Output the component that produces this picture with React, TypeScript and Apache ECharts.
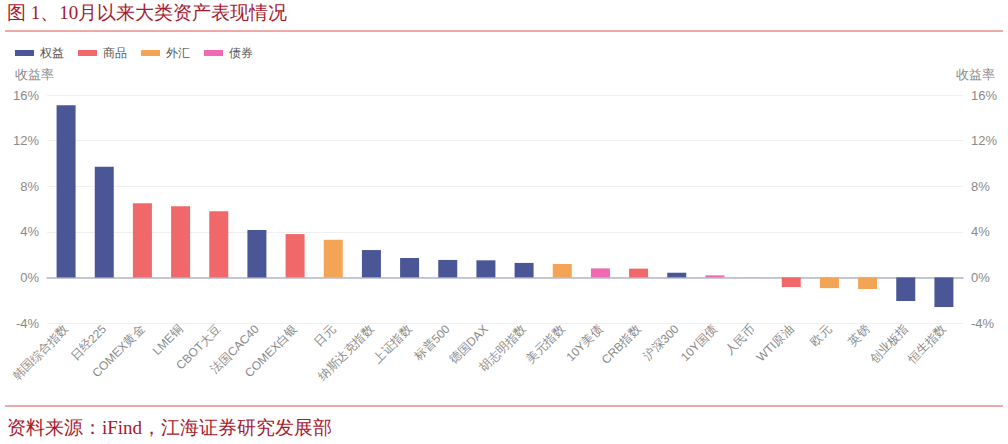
import React, { useEffect, useRef } from "react";
import * as echarts from "echarts";

const categories = [
  "韩国综合指数", "日经225", "COMEX黄金", "LME铜", "CBOT大豆", "法国CAC40", "COMEX白银", "日元",
  "纳斯达克指数", "上证指数", "标普500", "德国DAX", "胡志明指数", "美元指数", "10Y美债", "CRB指数",
  "沪深300", "10Y国债", "人民币", "WTI原油", "欧元", "英镑", "创业板指", "恒生指数",
];
const values = [
  15.1, 9.7, 6.5, 6.25, 5.8, 4.15, 3.8, 3.3,
  2.4, 1.7, 1.53, 1.5, 1.27, 1.18, 0.79, 0.77,
  0.41, 0.18, 0.02, -0.85, -0.94, -1.02, -2.07, -2.6,
];
const classes = [
  "权益", "权益", "商品", "商品", "商品", "权益", "商品", "外汇",
  "权益", "权益", "权益", "权益", "权益", "外汇", "债券", "商品",
  "权益", "债券", "外汇", "商品", "外汇", "外汇", "权益", "权益",
];
const seriesNames = ["权益", "商品", "外汇", "债券"];
const seriesColors = ["#4B5697", "#F0686A", "#F4A455", "#F06AB2"];
const yTicks = { min: -4, max: 16, interval: 4 };

export default function App() {
  const ref = useRef<HTMLDivElement>(null);
  useEffect(() => {
    if (!ref.current) return;
    const chart = echarts.init(ref.current, null, { renderer: "svg" });
    const series = seriesNames.map((name, si) => ({
      name,
      type: "bar",
      stack: "all",
      barWidth: 19,
      itemStyle: { color: seriesColors[si] },
      data: values.map((v, i) => (classes[i] === name ? v : "-")),
    }));
    const axisLabelStyle = { color: "#8a8a8a", fontSize: 13, formatter: "{value}%", fontFamily: "Arial, sans-serif" };
    chart.setOption({
      animation: false,
      legend: {
        left: 10,
        top: 42,
        itemWidth: 19,
        itemHeight: 6,
        itemGap: 14,
        icon: "rect",
        textStyle: { color: "#555", fontSize: 12, fontFamily: "sans-serif", padding: [0, 0, 0, 1] },
        data: seriesNames,
      },
      grid: { left: 47, right: 45, top: 95, bottom: 121 },
      xAxis: {
        type: "category",
        data: categories,
        axisLine: { onZero: true, lineStyle: { color: "#B3B7C8", width: 1.5 } },
        axisTick: { show: false },
        axisLabel: {
          rotate: 45,
          interval: 0,
          color: "#8a8a8a",
          fontSize: 12,
          margin: 4,
          fontFamily: "Arial, sans-serif",
        },
      },
      yAxis: [
        {
          type: "value",
          ...yTicks,
          position: "left",
          axisLine: { show: false },
          axisTick: { show: false },
          splitLine: { lineStyle: { color: "#EFEFF2" } },
          axisLabel: { ...axisLabelStyle, margin: 8 },
        },
        {
          type: "value",
          ...yTicks,
          position: "right",
          axisLine: { show: false },
          axisTick: { show: false },
          splitLine: { show: false },
          axisLabel: { ...axisLabelStyle, margin: 8 },
        },
      ],
      series,
      graphic: [
        {
          type: "text",
          left: 7,
          top: 3,
          style: { text: "图 1、10月以来大类资产表现情况", fill: "#A8182D", fontSize: 19, fontFamily: "serif" },
        },
        { type: "line", shape: { x1: 5, y1: 31, x2: 1003, y2: 31 }, style: { stroke: "#D9574F", lineWidth: 1 } },
        {
          type: "text",
          left: 15,
          top: 68,
          style: { text: "收益率", fill: "#8a8a8a", fontSize: 13, fontFamily: "sans-serif" },
        },
        {
          type: "text",
          right: 13,
          top: 68,
          style: { text: "收益率", fill: "#8a8a8a", fontSize: 13, fontFamily: "sans-serif" },
        },
        { type: "line", shape: { x1: 5, y1: 406, x2: 1003, y2: 406 }, style: { stroke: "#D9574F", lineWidth: 1 } },
        {
          type: "text",
          left: 7,
          top: 418,
          style: { text: "资料来源：iFind，江海证券研究发展部", fill: "#A8182D", fontSize: 19, fontFamily: "serif" },
        },
      ],
    });
    return () => chart.dispose();
  }, []);
  return (
    <div
      ref={ref}
      style={{ position: "fixed", left: 0, top: 0, width: 1008, height: 444, background: "#fff" }}
    />
  );
}
